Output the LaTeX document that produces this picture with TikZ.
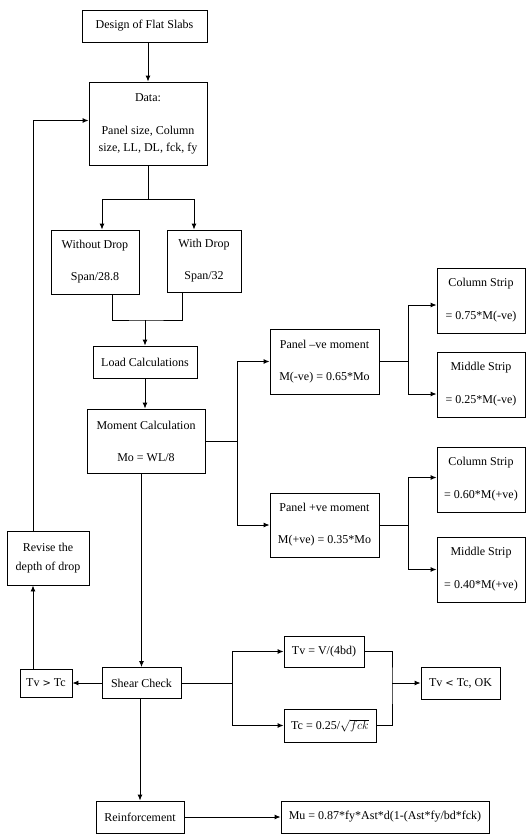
\documentclass[tikz,border=0pt]{standalone}
\usepackage{fontspec}
\setmainfont{Liberation Serif}
\usetikzlibrary{arrows.meta}
\begin{document}
\begin{tikzpicture}[x=1pt,y=-1pt,line width=0.9pt,
	box/.style={draw,align=center,inner sep=0pt,font=\fontsize{12}{16}\selectfont},
	arr/.style={-{Latex[length=6pt,width=5pt]}}]
\useasboundingbox (0,0) rectangle (526,836);
% main column
\node[box,minimum width=125,minimum height=32] (design) at (144.5,26) {Design of Flat Slabs};
\node[box,minimum width=118,minimum height=83] (data) at (148,123.5) {Data:\\[17pt]Panel size, Column\\[1pt]size, LL, DL, fck, fy};
\node[box,minimum width=88,minimum height=64] (nodrop) at (95,262) {Without Drop\\[16pt]Span/28.8};
\node[box,minimum width=74,minimum height=62] (withdrop) at (204,261) {With Drop\\[16pt]Span/32};
\node[box,minimum width=104,minimum height=32] (load) at (145,362) {Load Calculations};
\node[box,minimum width=118,minimum height=64] (moment) at (146,441) {Moment Calculation\\[16pt]Mo = WL/8};
\node[box,minimum width=82,minimum height=54] (revise) at (48,558) {Revise the\\[3pt]depth of drop};
\node[box,minimum width=52,minimum height=28] (tvgt) at (46,683) {Tv {\fontspec{DejaVu Sans}\fontsize{10}{12}\selectfont>} Tc};
\node[box,minimum width=79,minimum height=31] (shear) at (141.5,683) {Shear Check};
\node[box,minimum width=88,minimum height=32] (reinf) at (140,817) {Reinforcement};
\node[box,minimum width=208,minimum height=32] (mu) at (385,817) {Mu = 0.87*fy*Ast*d(1-(Ast*fy/bd*fck)};
% moments
\node[box,minimum width=109,minimum height=65] (negm) at (324.5,361.5) {Panel –ve moment\\[16pt]M(-ve) = 0.65*Mo};
\node[box,minimum width=109,minimum height=64] (posm) at (324.5,525) {Panel +ve moment\\[16pt]M(+ve) = 0.35*Mo};
\node[box,minimum width=88,minimum height=65] (colneg) at (481,300.5) {Column Strip\\[17pt]= 0.75*M(-ve)};
\node[box,minimum width=88,minimum height=65] (midneg) at (481,384.5) {Middle Strip\\[17pt]= 0.25*M(-ve)};
\node[box,minimum width=88,minimum height=65] (colpos) at (481,479.5) {Column Strip\\[17pt]= 0.60*M(+ve)};
\node[box,minimum width=88,minimum height=65] (midpos) at (481,569.5) {Middle Strip\\[17pt]= 0.40*M(+ve)};
% shear
\node[box,minimum width=80,minimum height=31] (tv) at (324,651.5) {Tv = V/(4bd)};
\node[box,minimum width=92,minimum height=33] (tc) at (330,725.5) {Tc = 0.25/$\sqrt{fck}$};
\node[box,minimum width=79,minimum height=32] (ok) at (460.5,683) {Tv {\fontspec{DejaVu Sans}\fontsize{10}{12}\selectfont<} Tc, OK};
% connectors
\draw[arr] (design.south -| data.north) -- (data.north);
\draw (data.south) -- ++(0,34) coordinate (split);
\draw[arr] (split) -| ([xshift=7pt]nodrop.north);
\draw[arr] (split) -| ([xshift=-10pt]withdrop.north);
\coordinate (merge) at (145,320);
\draw ([xshift=17pt]nodrop.south) |- (merge) -| ([xshift=-22pt]withdrop.south);
\draw[arr] (merge) -- (load.north);
\draw[arr] (load.south) -- (load.south |- moment.north);
\draw (moment.east) -- (237,441) coordinate (mjoin);
\draw[arr] (mjoin) |- (negm.west);
\draw[arr] (mjoin) |- (posm.west);
\draw (negm.east) -- (408,361.5) coordinate (njoin);
\draw[arr] (njoin) |- ([yshift=-4.5pt]colneg.west);
\draw[arr] (njoin) |- ([yshift=-9.5pt]midneg.west);
\draw (posm.east) -- (408,525) coordinate (pjoin);
\draw[arr] (pjoin) |- ([yshift=2pt]colpos.west);
\draw[arr] (pjoin) |- (midpos.west);
\draw[arr] (moment.south -| shear.north) -- (shear.north);
\draw[arr] (shear.west) -- (tvgt.east);
\draw[arr] ([xshift=-13pt]tvgt.north) -- ([xshift=-13pt]tvgt.north |- revise.south);
\draw[arr] ([xshift=-15pt]revise.north) |- ([yshift=3pt]data.west);
\draw (shear.east) -- (232,683) coordinate (sjoin);
\draw[arr] (sjoin) |- (tv.west);
\draw[arr] (sjoin) |- (tc.west);
\coordinate (cjoin) at (392,683);
\draw (tv.east) -| (cjoin) |- (tc.east);
\draw[arr] (cjoin) -- (ok.west);
\draw[arr] (shear.south -| reinf.north) -- (reinf.north);
\draw[arr] (reinf.east) -- (mu.west);
\end{tikzpicture}
\end{document}
